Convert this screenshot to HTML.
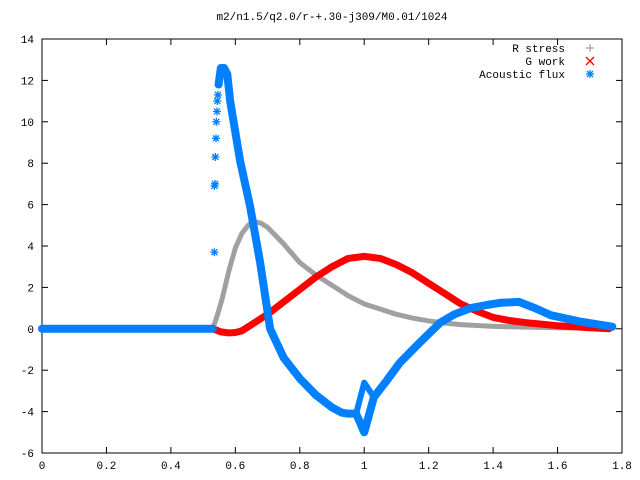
<!DOCTYPE html>
<html><head><meta charset="utf-8"><style>
body{margin:0;background:#fff}
svg{display:block;font-family:"Liberation Mono","DejaVu Sans Mono",monospace;font-size:11px}
</style></head><body>
<svg id="chart" width="640" height="480" viewBox="0 0 640 480">
<rect width="640" height="480" fill="#fff"/>
<text x="332" y="20" text-anchor="middle">m2/n1.5/q2.0/r-+.30-j309/M0.01/1024</text>
<g id="axes"></g>
<g id="series"></g>
<g id="legend">
 <text x="565" y="52" text-anchor="end">R stress</text>
 <text x="565" y="65" text-anchor="end">G work</text>
 <text x="565" y="78" text-anchor="end">Acoustic flux</text>
</g>
</svg>
<script>
const xTicks=[0,0.2,0.4,0.6,0.8,1,1.2,1.4,1.6,1.8];
const xTickLabels=["0","0.2","0.4","0.6","0.8","1","1.2","1.4","1.6","1.8"];
const yTicks=[-6,-4,-2,0,2,4,6,8,10,12,14];
const yTickLabels=["-6","-4","-2","0","2","4","6","8","10","12","14"];
const rX=[0,0.53,0.545,0.56,0.58,0.6,0.62,0.64,0.655,0.68,0.7,0.75,0.8,0.85,0.9,0.95,1.0,1.05,1.1,1.15,1.2,1.25,1.3,1.4,1.5,1.6,1.76];
const rY=[0,0,0.7,1.5,2.8,3.9,4.6,5.0,5.2,5.1,4.9,4.1,3.2,2.6,2.1,1.6,1.2,0.95,0.7,0.52,0.38,0.28,0.2,0.12,0.08,0.05,0.03];
const gX=[0,0.53,0.555,0.58,0.6,0.62,0.65,0.7,0.75,0.8,0.85,0.9,0.95,1.0,1.05,1.1,1.15,1.2,1.25,1.3,1.35,1.4,1.45,1.5,1.6,1.7,1.76];
const gY=[0,0,-0.15,-0.2,-0.18,-0.1,0.2,0.7,1.3,1.9,2.5,3.0,3.4,3.5,3.4,3.1,2.7,2.2,1.7,1.2,0.85,0.55,0.4,0.3,0.15,0.05,0];
const aBaseX=[0,0.53];
const aBaseY=[0,0];
const aX=[0.548,0.555,0.565,0.575,0.584,0.6,0.615,0.646,0.677,0.708,0.75,0.8,0.85,0.9,0.93,0.95,0.975,1.0,1.03,1.07,1.11,1.17,1.236,1.28,1.33,1.38,1.42,1.48,1.53,1.58,1.67,1.77];
const aY=[11.8,12.6,12.6,12.3,11.0,9.5,8.1,5.9,3.2,0,-1.4,-2.4,-3.2,-3.8,-4.05,-4.1,-4.1,-5.0,-3.3,-2.5,-1.65,-0.7,0.3,0.7,1.0,1.15,1.25,1.3,1.0,0.65,0.35,0.1];
const aLoopX=[0.975,1.0,1.03];
const aLoopY=[-4.1,-2.6,-3.3];
const aScatterX=[0.535,0.535,0.537,0.538,0.54,0.541,0.543,0.544,0.546];
const aScatterY=[3.7,6.9,7.0,8.3,9.2,10.0,10.5,11.0,11.3];
const X0=42,X1=622,Y0=453,Y1=39;
const sx=v=>X0+(v-0)/1.8*(X1-X0);
const sy=v=>Y0-(v+6)/20*(Y0-Y1);
const NS="http://www.w3.org/2000/svg";
function mk(t,a,p){const e=document.createElementNS(NS,t);for(const k in a)e.setAttribute(k,a[k]);p.appendChild(e);return e;}
const ax=document.getElementById('axes'),se=document.getElementById('series');
const frame=mk('rect',{x:X0,y:Y1,width:X1-X0,height:Y0-Y1,fill:'none',stroke:'#000','stroke-width':1},ax);


xTicks.forEach((v,i)=>{const x=sx(v);
 mk('line',{x1:x,y1:Y0,x2:x,y2:Y0-6,stroke:'#000'},ax);mk('line',{x1:x,y1:Y1,x2:x,y2:Y1+6,stroke:'#000'},ax);
 const t=mk('text',{x:x,y:469,'text-anchor':'middle'},ax);t.textContent=xTickLabels[i];
 
 });
yTicks.forEach((v,i)=>{const y=sy(v);
 mk('line',{x1:X0,y1:y,x2:X0+6,y2:y,stroke:'#000'},ax);mk('line',{x1:X1,y1:y,x2:X1-6,y2:y,stroke:'#000'},ax);
 const t=mk('text',{x:34,y:y+4,'text-anchor':'end'},ax);t.textContent=yTickLabels[i];
 
 });
function line(xs,ys,col,w,name){const p=mk('polyline',{points:xs.map((x,i)=>sx(x)+','+sy(ys[i])).join(' '),fill:'none',stroke:col,'stroke-width':w,'stroke-linejoin':'round','stroke-linecap':'round'},se);
 
 }
line(rX,rY,'#a0a0a0',5,'r-stress-series');
line(gX,gY,'#ff0000',7,'g-work-series');
line(aBaseX,aBaseY,'#0080ff',8,'acoustic-flux-baseline');
line(aX,aY,'#0080ff',8,'acoustic-flux-series');
line(aLoopX,aLoopY,'#0080ff',6,'acoustic-flux-loop');
function star(x,y,col,name){const g=mk('g',{stroke:col,'stroke-width':1.3},se);
 
 
 mk('line',{x1:x-4,y1:y,x2:x+4,y2:y},g);mk('line',{x1:x,y1:y-4,x2:x,y2:y+4},g);
 mk('line',{x1:x-3,y1:y-3,x2:x+3,y2:y+3},g);mk('line',{x1:x-3,y1:y+3,x2:x+3,y2:y-3},g);}
aScatterX.forEach((v,i)=>star(sx(v),sy(aScatterY[i]),'#0080ff','acoustic-flux-point'));
const lg=document.getElementById('legend');
const p1=mk('g',{stroke:'#a0a0a0','stroke-width':1.3},lg);


mk('line',{x1:586,y1:48,x2:594,y2:48},p1);mk('line',{x1:590,y1:44,x2:590,y2:52},p1);
const p2=mk('g',{stroke:'#ff0000','stroke-width':1.3},lg);


mk('line',{x1:586,y1:57,x2:594,y2:65},p2);mk('line',{x1:586,y1:65,x2:594,y2:57},p2);
star(590,74,'#0080ff','legend-marker-acoustic-flux');
</script>
</body></html>
